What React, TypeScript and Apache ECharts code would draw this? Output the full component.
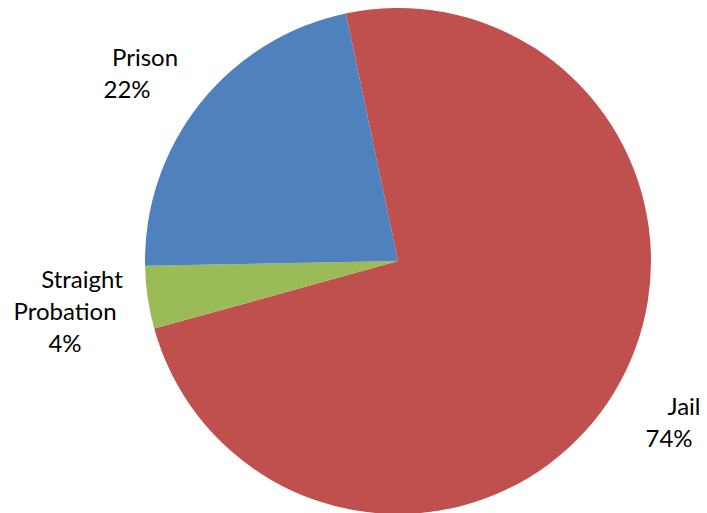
import React, { useEffect, useRef } from "react";
import * as echarts from "echarts";

const categories = ["Jail", "Straight Probation", "Prison"];
const values = [74, 4, 22];
const colors = ["#C0504D", "#9BBB59", "#4F81BD"];

export default function App() {
  const ref = useRef<HTMLDivElement>(null);
  useEffect(() => {
    if (!ref.current) return;
    const chart = echarts.init(ref.current, null, { renderer: "svg" });
    const labelPos = [
      { x: 676, y: 421 },
      { x: 65, y: 310 },
      { x: 136, y: 72 },
    ];
    const base = { fontFamily: "Lato", fontSize: 24, lineHeight: 32, color: "#000000" };
    chart.setOption({
      animation: false,
      backgroundColor: "#ffffff",
      series: [
        {
          type: "pie",
          center: [398, 261],
          radius: 253,
          startAngle: 101.9,
          clockwise: true,
          avoidLabelOverlap: false,
          data: categories.map((c, i) => ({
            name: c,
            value: values[i],
            itemStyle: { color: colors[i] },
          })),
          label: {
            show: true,
            position: "outside",
            alignTo: "none",
            overflow: "none",
            width: 300,
            formatter: (p: any) => {
              const pct = `${Math.round(p.percent)}%`;
              if (p.dataIndex === 0) return `{r|${p.name}}\n{l|${pct}}`;
              if (p.dataIndex === 1) {
                const [a, b] = String(p.name).split(" ");
                return `{rr|${a}}\n{n|${b}}\n{n|${pct}}`;
              }
              return `{r2|${p.name}}\n{l2|${pct}}`;
            },
            ...base,
            align: "center",
            rich: {
              n: { ...base },
              r: { ...base, padding: [0, 0, 0, 16] },
              l: { ...base, padding: [0, 14, 0, 0] },
              r2: { ...base, padding: [0, 0, 0, 18] },
              l2: { ...base, padding: [0, 18, 0, 0] },
              rr: { ...base, padding: [0, 0, 0, 34] },
            },
          },
          labelLine: { show: false },
          labelLayout: (params: any) => ({
            x: labelPos[params.dataIndex].x,
            y: labelPos[params.dataIndex].y,
            align: "center",
            verticalAlign: "middle",
          }),
          emphasis: { disabled: true },
        },
      ],
    });
    return () => chart.dispose();
  }, []);
  return (
    <div
      ref={ref}
      style={{ position: "fixed", left: 0, top: 0, width: 707, height: 513 }}
    />
  );
}
